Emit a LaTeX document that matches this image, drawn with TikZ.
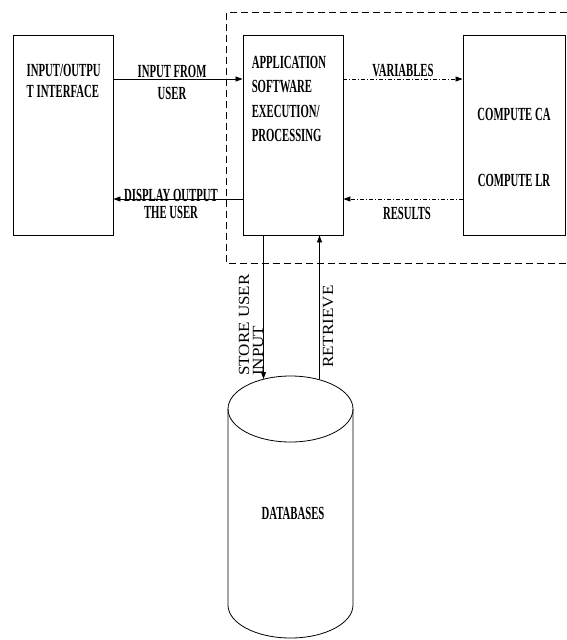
\documentclass[tikz,border=0pt]{standalone}
\usepackage{fontspec}
\setmainfont{Liberation Serif}
\newfontfamily\narrowbf{Liberation Serif}[FakeStretch=0.58]
\newfontfamily\uprot{Liberation Serif}[FakeStretch=1.1]
\usetikzlibrary{arrows.meta,positioning}

\begin{document}
\begin{tikzpicture}[x=1pt, y=-1pt,
  block/.style={rectangle, draw, line width=0.9pt, minimum width=100pt, minimum height=200pt, inner sep=0pt},
  txt/.style={font=\narrowbf\bfseries\fontsize{18.5}{24.5}\selectfont, inner sep=0pt, align=left},
  lbl/.style={txt, align=center},
  vtxt/.style={font=\uprot\fontsize{15.5}{14}\selectfont, inner sep=0pt, align=left, rotate=90},
  flow/.style={line width=0.8pt, -{Triangle[length=7pt,width=5pt]}},
  dataflow/.style={flow, dash pattern=on 4pt off 2pt on 1pt off 2pt},
  zone/.style={line width=0.8pt, dash pattern=on 7pt off 4pt},
  cyl/.style={line width=0.8pt}
]
  \useasboundingbox (0,0) rectangle (567,640);
  \clip (0,0) rectangle (567,640);

  % Blocks
  \node[block] (io) at (63,135) {};
  \node[block] (app) at (293,135) {};
  \node[block, minimum width=102pt] (calc) at (514,135) {};

  % Dashed boundary round the application part
  \draw[zone] ([shift={(-16,-22)}]app.north west) rectangle ([shift={(15,28)}]calc.south east);

  % Database drum
  \coordinate (dbtop) at (290.5,409);
  \coordinate (dbbot) at (290.5,605);
  \draw[cyl] ([xshift=-62.5pt]dbtop) -- ([xshift=-62.5pt]dbbot)
    arc[start angle=180, end angle=360, x radius=62.5pt, y radius=33pt] -- ([xshift=62.5pt]dbtop);
  \draw[cyl] (dbtop) ellipse [x radius=62.5pt, y radius=33pt];

  % Texts inside the blocks
  \node[txt, anchor=north west] (iotext) at ([shift={(14,29)}]io.north west) {INPUT/OUTPU\\[-3pt]T INTERFACE};
  \node[txt, anchor=north west] (apptext) at ([shift={(9,21)}]app.north west) {APPLICATION\\SOFTWARE\\EXECUTION/\\PROCESSING};
  \node[txt] (catext) at ([shift={(0,-21)}]calc.center) {COMPUTE CA};
  \node[txt] (lrtext) at ([shift={(0,45)}]calc.center) {COMPUTE LR};
  \node[txt] (db) at (293,513) {DATABASES};

  % Horizontal connections
  \draw[flow] ([yshift=56pt]io.east) -- ([yshift=56pt]app.west)
    node[midway, lbl, xshift=-6pt, yshift=-3.5pt] {INPUT FROM\\[-2pt]USER};
  \draw[flow] ([yshift=-64pt]app.west) -- ([yshift=-64pt]io.east)
    node[midway, lbl, xshift=-7pt, yshift=-5pt] {DISPLAY OUTPUT\\[-7pt]THE USER};
  \draw[dataflow] ([yshift=56pt]app.east) -- ([yshift=56pt]calc.west)
    node[midway, txt, above=2pt] {VARIABLES};
  \draw[dataflow] ([yshift=-64pt]calc.west) -- ([yshift=-64pt]app.east)
    node[midway, txt, below=8pt, xshift=4pt] {RESULTS};

  % Connections to the database
  \coordinate (dbin) at ([shift={(-27,-30)}]dbtop);
  \coordinate (dbout) at ([shift={(29,-30)}]dbtop);
  \draw[flow] (app.south -| dbin) -- (dbin);
  \draw[flow] (dbout) -- (app.south -| dbout);
  \node[vtxt, anchor=south west] (storelbl) at ([yshift=3pt]dbin) {STORE USER\\INPUT};
  \node[vtxt, anchor=base west] (retrlbl) at ([shift={(13.5,-11)}]dbout) {RETRIEVE};
\end{tikzpicture}
\end{document}
